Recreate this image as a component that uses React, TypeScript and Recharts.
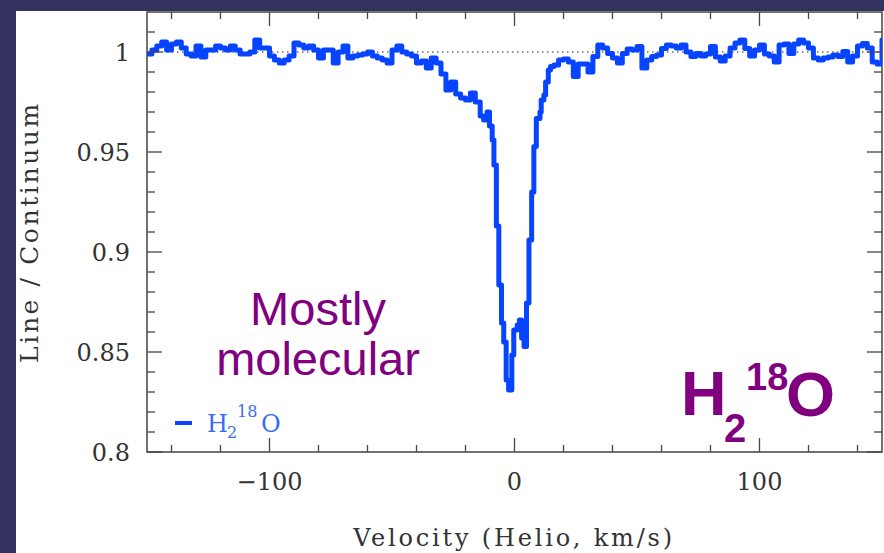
import { LineChart, Line, XAxis, YAxis, ReferenceLine, ReferenceArea, Legend } from 'recharts'

// H2 18O absorption spectrum: step edges in km/s and normalised flux
const velocity = [
  -150, -148, -146, -144, -142, -140, -138, -136, -134, -132,
  -130, -128, -126, -124, -122, -120, -118, -116, -114, -112,
  -110, -108, -106, -104, -102, -100, -98, -96, -94, -92,
  -90, -88, -86, -84, -82, -80, -78, -76, -74, -72,
  -70, -68, -66, -64, -62, -60, -58, -56, -54, -52,
  -50, -48, -46, -44, -42, -40, -38, -36, -34, -32,
  -30, -28, -26, -24, -22, -20, -18, -16, -14,
  -12.6, -11.2, -10.2, -9.1, -8.4, -7.4, -6.4, -5.3, -4.4, -3.4,
  -2.4, -1.1, -0.3, 1.1, 2.0, 2.9, 3.9, 4.9, 5.9, 7.0,
  7.9, 8.9, 10.4, 10.9, 12.0, 12.7, 13.8, 14.7, 16.1,
  18, 20, 22, 24, 26, 28, 30, 32, 34, 36,
  38, 40, 42, 44, 46, 48, 50, 52, 54, 56,
  58, 60, 62, 64, 66, 68, 70, 72, 74, 76,
  78, 80, 82, 84, 86, 88, 90, 92, 94, 96,
  98, 100, 102, 104, 106, 108, 110, 112, 114, 116,
  118, 120, 122, 124, 126, 128, 130, 132, 134, 136,
  138, 140, 142, 144, 146, 148, 150,
]

const flux = [
  0.999, 1.001, 1.003, 1.005, 1.001, 1.004, 1.005, 1.002, 0.999, 0.998,
  1.003, 0.9975, 1.001, 1.001, 1.003, 1.002, 1.001, 1.003, 1.001, 0.999,
  0.999, 1.0, 1.006, 1.002, 1.002, 0.998, 0.996, 0.9945, 0.996, 0.998,
  1.0045, 1.0035, 1.002, 1.003, 1.001, 0.997, 1.001, 1.001, 0.9945, 1.0,
  1.003, 0.997, 0.998, 0.9985, 0.999, 1.0, 0.998, 0.997, 0.996, 0.9945,
  1.001, 1.003, 1.0, 0.999, 0.998, 0.9945, 0.9955, 0.992, 0.997, 0.9945,
  0.989, 0.981, 0.985, 0.979, 0.977, 0.976, 0.9795, 0.975, 0.968,
  0.966, 0.970, 0.963, 0.956, 0.9435, 0.913, 0.8835, 0.8645, 0.855, 0.836,
  0.831, 0.8485, 0.861, 0.8635, 0.866, 0.857, 0.8527, 0.8745, 0.906, 0.930,
  0.9527, 0.9668, 0.970, 0.976, 0.9785, 0.985, 0.991, 0.9927, 0.9935,
  0.996, 0.9965, 0.995, 0.9877, 0.994, 0.994, 0.990, 0.9977, 1.0035, 1.002,
  0.9993, 0.997, 0.9945, 0.9993, 1.0015, 1.001, 1.0027, 0.992, 0.996, 0.9977,
  0.9985, 1.0018, 1.0035, 1.003, 1.002, 1.0035, 1.0, 0.9977, 0.9993, 0.998,
  0.999, 1.0027, 0.9975, 0.9955, 0.998, 1.002, 1.0045, 1.006, 1.0018, 0.998,
  1.001, 1.0035, 0.999, 0.998, 0.995, 1.0035, 1.004, 0.9993, 1.004, 1.006,
  1.0045, 1.002, 0.997, 0.996, 0.997, 0.9975, 0.9985, 0.9977, 1.0002, 0.995,
  0.998, 1.003, 1.0043, 1.002, 0.995, 0.994, 1.006,
]

const xTicks = [-140, -120, -100, -80, -60, -40, -20, 0, 20, 40, 60, 80, 100, 120, 140]
const xMajor = [-100, 0, 100]
const xMajorLabels = ['\u2212100', '0', '100']

const yTicks = [
  0.8, 0.81, 0.82, 0.83, 0.84, 0.85, 0.86, 0.87, 0.88, 0.89, 0.9,
  0.91, 0.92, 0.93, 0.94, 0.95, 0.96, 0.97, 0.98, 0.99, 1, 1.01,
]
const yMajor = [0.8, 0.85, 0.9, 0.95, 1]
const yMajorLabels = ['0.8', '0.85', '0.9', '0.95', '1']

const data = velocity.map((v, i) => ({ v, flux: flux[i] }))

const W = 884
const H = 553
const PLOT_W = 735
const PLOT_H = 440
const AXIS = '#444'
const LINE_BLUE = '#0644ff'
const PURPLE = '#800080'
const SERIF = '"DejaVu Serif", serif'

const majorIndex = (list: number[], v: number) => list.findIndex(m => Math.abs(m - v) < 1e-6)

// ticks point inwards on all four sides of the frame
const XTick = (props: any) => {
  const { x, y, payload } = props
  const k = majorIndex(xMajor, payload.value)
  const len = k >= 0 ? 14 : 7
  return (
    <g>
      <line x1={x} x2={x} y1={y} y2={y - len} stroke={AXIS} strokeWidth={1.3} />
      <line x1={x} x2={x} y1={y - PLOT_H} y2={y - PLOT_H + len} stroke={AXIS} strokeWidth={1.3} />
      {k >= 0 && (
        <text x={x} y={y + 38} textAnchor="middle" fontSize={24} fontFamily={SERIF} fill="#333">
          {xMajorLabels[k]}
        </text>
      )}
    </g>
  )
}

const YTick = (props: any) => {
  const { x, y, payload } = props
  const k = majorIndex(yMajor, payload.value)
  const len = k >= 0 ? 15 : 8
  return (
    <g>
      <line x1={x} x2={x + len} y1={y} y2={y} stroke={AXIS} strokeWidth={1.3} />
      <line x1={x + PLOT_W} x2={x + PLOT_W - len} y1={y} y2={y} stroke={AXIS} strokeWidth={1.3} />
      {k >= 0 && (
        <text x={x - 17} y={y + 8.5} textAnchor="end" fontSize={24} fontFamily={SERIF} fill="#333">
          {yMajorLabels[k]}
        </text>
      )}
    </g>
  )
}

const renderLegend = () => (
  <svg width={120} height={40} style={{ display: 'block' }}>
    <line x1={3} x2={20} y1={21} y2={21} stroke={LINE_BLUE} strokeWidth={4} />
    <text fontFamily={SERIF} fill="#3b6cf0">
      <tspan x={35} y={30} fontSize={24}>H</tspan>
      <tspan x={55} y={36} fontSize={16}>2</tspan>
      <tspan x={65} y={15} fontSize={16}>18</tspan>
      <tspan x={89} y={30} fontSize={24}>O</tspan>
    </text>
  </svg>
)

export default function App() {
  return (
    <div style={{ position: 'fixed', left: 0, top: 0, width: W, height: H, background: '#33325e', overflow: 'hidden' }}>
      <div style={{ position: 'absolute', left: 16, top: 11, width: W - 16, height: H - 11, background: '#fff' }} />
      <div style={{ position: 'absolute', left: 0, top: 0 }}>
        <LineChart width={W} height={H} data={data} margin={{ top: 12, right: 2, bottom: 0, left: 0 }}>
          <XAxis
            dataKey="v"
            type="number"
            domain={[-150, 150]}
            ticks={xTicks}
            interval={0}
            allowDataOverflow
            axisLine={false}
            tickLine={false}
            tickSize={0}
            tickMargin={0}
            height={101}
            tick={<XTick />}
          />
          <YAxis
            type="number"
            domain={[0.8, 1.02]}
            ticks={yTicks}
            interval={0}
            allowDataOverflow
            axisLine={false}
            tickLine={false}
            tickSize={0}
            tickMargin={0}
            width={147}
            tick={<YTick />}
          />
          <ReferenceLine y={1} stroke="#222" strokeWidth={1} strokeDasharray="1.5 3.5" />
          <Line
            type="stepAfter"
            dataKey="flux"
            name="H2 18O"
            stroke={LINE_BLUE}
            strokeWidth={5}
            strokeLinejoin="round"
            strokeLinecap="round"
            dot={false}
            isAnimationActive={false}
          />
          <ReferenceArea x1={-150} x2={150} y1={0.8} y2={1.02} fill="none" stroke={AXIS} strokeWidth={1.5} ifOverflow="visible" />
          <Legend
            layout="vertical"
            align="center"
            verticalAlign="middle"
            wrapperStyle={{ left: 172, top: 402, width: 120 }}
            content={renderLegend}
          />
        </LineChart>
      </div>
      <svg width={W} height={H} style={{ position: 'absolute', left: 0, top: 0, pointerEvents: 'none' }}>
        <text x={38} y={232} transform="rotate(-90 38 232)" textAnchor="middle" fontSize={25} letterSpacing={2.6} fontFamily={SERIF} fill="#333">
          Line / Continuum
        </text>
        <text x={514} y={546} textAnchor="middle" fontSize={24} letterSpacing={2.8} fontFamily={SERIF} fill="#333">
          Velocity (Helio, km/s)
        </text>
        <text x={318} y={325} textAnchor="middle" fontSize={47} fontFamily='"Liberation Sans", Arial, sans-serif' fill={PURPLE}>
          Mostly
        </text>
        <text x={318} y={375} textAnchor="middle" fontSize={47} fontFamily='"Liberation Sans", Arial, sans-serif' fill={PURPLE}>
          molecular
        </text>
        <g fontFamily='"Liberation Sans", Arial, sans-serif' fontWeight="bold" fill={PURPLE}>
          <text x={681} y={415} fontSize={63}>H</text>
          <text x={724} y={442} fontSize={40}>2</text>
          <text x={746} y={390} fontSize={38}>18</text>
          <text x={786} y={416} fontSize={63}>O</text>
        </g>
      </svg>
    </div>
  )
}
